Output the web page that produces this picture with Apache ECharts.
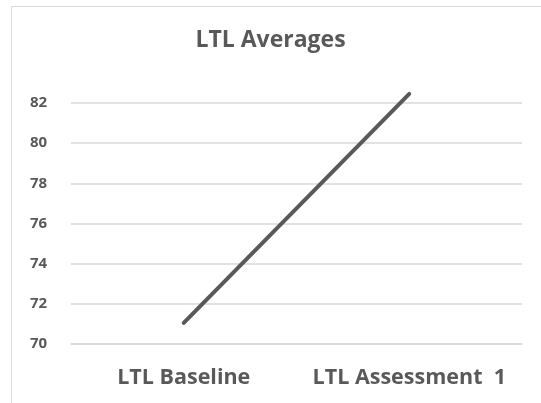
<!DOCTYPE html>
<html>
<head>
<meta charset="utf-8">
<script src="https://cdn.jsdelivr.net/npm/echarts@6/dist/echarts.min.js"></script>
<style>
  html, body { margin: 0; padding: 0; background: #fff; }
  #chart { width: 541px; height: 403px; }
</style>
</head>
<body>
<div id="chart"></div>
<script>
// 数据
var categories = ['LTL Baseline', 'LTL Assessment  1'];
var averages = [71.05, 82.45];
var yTicks = [70, 72, 74, 76, 78, 80, 82];

var myChart = echarts.init(document.getElementById('chart'));
var option = {
    backgroundColor: '#fff',
    animation: false,
    title: {
        text: 'LTL Averages',
        left: 'center',
        top: 24,
        textStyle: { fontFamily: 'Open Sans', fontSize: 23, fontWeight: 'bold', color: '#595959' }
    },
    graphic: [{
        type: 'rect',
        shape: { x: 11.5, y: 6.5, width: 560, height: 420 },
        style: { fill: 'none', stroke: '#d9d9d9', lineWidth: 1 }
    }],
    grid: { left: 71, right: 19, top: 103, bottom: 59 },
    xAxis: {
        type: 'category',
        data: categories,
        boundaryGap: true,
        axisLine: { lineStyle: { color: '#d9d9d9', width: 1.5 } },
        axisTick: { show: false },
        axisLabel: {
            interval: 0,
            hideOverlap: false,
            margin: 23,
            fontFamily: 'Open Sans', fontSize: 21.5, fontWeight: 'bold', color: '#595959'
        }
    },
    yAxis: {
        type: 'value',
        min: yTicks[0],
        max: yTicks[yTicks.length - 1],
        interval: 2,
        axisLine: { show: false },
        axisTick: { show: false },
        splitLine: { lineStyle: { color: '#d9d9d9', width: 1.5 } },
        axisLabel: {
            margin: 41,
            align: 'left',
            fontFamily: 'Open Sans', fontSize: 15, fontWeight: 'bold', color: '#595959'
        }
    },
    series: [{
        name: 'LTL Averages',
        type: 'line',
        data: averages,
        showSymbol: false,
        lineStyle: { color: '#595959', width: 4, cap: 'round' },
        clip: false
    }]
};
myChart.setOption(option);
</script>
</body>
</html>
